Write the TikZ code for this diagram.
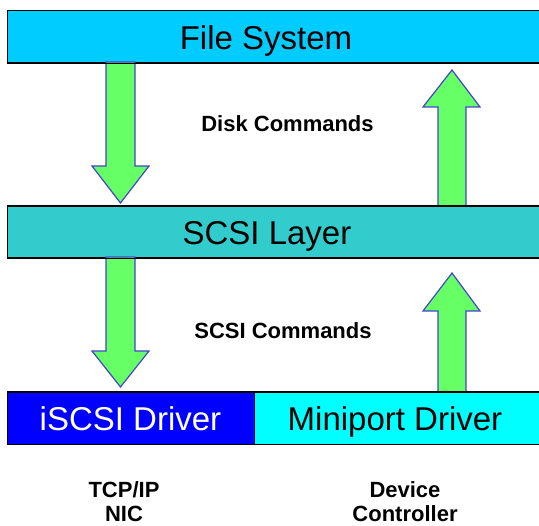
\documentclass[tikz,border=0pt]{standalone}
\usepackage{fontspec}
\setmainfont{Liberation Sans}
\definecolor{fscol}{HTML}{00CCFF}
\definecolor{scsicol}{HTML}{33CCCC}
\definecolor{iscsicol}{HTML}{0000FF}
\definecolor{minicol}{HTML}{00FFFF}
\definecolor{arrfill}{HTML}{66FF66}
\definecolor{arrline}{HTML}{4444CC}
\begin{document}
\begin{tikzpicture}[x=1pt,y=-1pt,
  layer/.style={draw=black,line width=1.3pt,inner sep=0pt,anchor=north west},
  bigtxt/.style={font=\fontsize{33}{36}\selectfont,anchor=base,inner sep=0pt},
  lbl/.style={font=\bfseries\fontsize{22}{24}\selectfont,anchor=base,inner sep=0pt},
  fatarrow/.style={fill=arrfill,draw=arrline,line width=1.2pt,line join=miter}]
\useasboundingbox (0,0) rectangle (539,526);
\clip (0,0) rectangle (539,526);
% boxes
\node[layer,fill=fscol,minimum width=540pt,minimum height=52pt] (fs) at (7,10) {};
\node[bigtxt] (fst) at (266,50) {File System};
\node[layer,fill=scsicol,minimum width=540pt,minimum height=51pt] (scsi) at (7,206) {};
\node[bigtxt] (scsit) at (267,245) {SCSI Layer};
\node[layer,fill=iscsicol,minimum width=247pt,minimum height=52pt] (isd) at (7,392) {};
\node[bigtxt,text=white] (isdt) at (130.5,431) {iSCSI Driver};
\node[layer,fill=minicol,minimum width=290pt,minimum height=52pt] (mpd) at (254,392) {};
\node[bigtxt] (mpdt) at (395,431) {Miniport Driver};
% arrows
\draw[fatarrow] (106,62) -- (135,62) -- (135,166) -- (149,166) -- (120.5,203) -- (92,166) -- (106,166) -- cycle;
\draw[fatarrow] (438,206) -- (466,206) -- (466,107) -- (480,107) -- (452,70) -- (423,107) -- (438,107) -- cycle;
\draw[fatarrow] (106,257) -- (135,257) -- (135,351) -- (149,351) -- (120.5,387) -- (92,351) -- (106,351) -- cycle;
\draw[fatarrow] (438,392) -- (466,392) -- (466,311) -- (480,311) -- (452,273) -- (423,311) -- (438,311) -- cycle;
% redraw box borders over arrow ends
\draw[line width=1.3pt] (fs.south west) -- (fs.south east);
\draw[line width=1.3pt] (scsi.north west) -- (scsi.north east);
\draw[line width=1.3pt] (scsi.south west) -- (scsi.south east);
\draw[line width=1.3pt] (isd.north west) -- (mpd.north east);
% labels
\node[lbl] (dc) at (287.5,132) {Disk Commands};
\node[lbl] (sc) at (283,339) {SCSI Commands};
\node[lbl] (tcp) at (124,498) {TCP/IP};
\node[lbl] (nic) at (124,522) {NIC};
\node[lbl] (dev) at (405,498) {Device};
\node[lbl] (ctl) at (405,522) {Controller};
\end{tikzpicture}
\end{document}
